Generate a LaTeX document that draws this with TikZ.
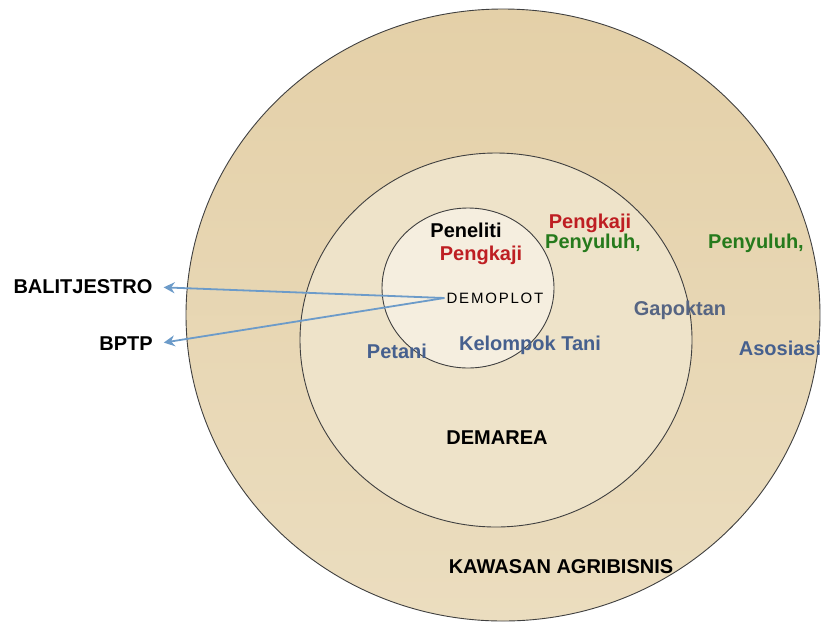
\documentclass[tikz,border=0pt]{standalone}
\usepackage{fontspec}
\setmainfont{Liberation Sans}
\usetikzlibrary{arrows.meta,positioning}
\definecolor{ringtop}{HTML}{E4D0A8}
\definecolor{ringbot}{HTML}{EBDDBF}
\definecolor{ringmid}{HTML}{EEE3C9}
\definecolor{ringin}{HTML}{F5EEDF}
\definecolor{txtred}{HTML}{BE1E22}
\definecolor{txtgreen}{HTML}{267A1C}
\definecolor{txtblue}{HTML}{46608E}
\definecolor{txtgray}{HTML}{566583}
\definecolor{arrblue}{HTML}{6C9BC9}
\tikzset{
  ring/.style  = {draw=black!75, line width=0.9pt},
  lbl/.style   = {font=\fontsize{20}{22}\selectfont\bfseries, inner sep=2pt},
  lblred/.style   = {lbl, text=txtred},
  lblgreen/.style = {lbl, text=txtgreen},
  lblblue/.style  = {lbl, text=txtblue},
  core/.style  = {font=\fontsize{15}{17}\selectfont\addfontfeature{LetterSpace=12}, inner sep=2pt},
  arr/.style   = {-{Stealth[length=11pt,width=11pt]}, draw=arrblue, line width=1.8pt},
}

\begin{document}
\begin{tikzpicture}[x=1pt, y=-1pt, node distance=2pt]
  \useasboundingbox (0,0) rectangle (821,622);
  % rings
  \draw[ring, top color=ringtop, bottom color=ringbot] (503,315) ellipse [x radius=317, y radius=306];
  \draw[ring, fill=ringmid] (496,340) ellipse [x radius=196, y radius=187];
  \draw[ring, fill=ringin] (468,288) ellipse [x radius=86, y radius=80];
  % demoplot
  \node[core] (demoplot) at (495,298) {DEMOPLOT};
  \node[lbl] (peneliti) at (466,230) {Peneliti};
  \node[lblred] (pengkajiA) at (481,255) {Pengkaji};
  \node[lblblue] (kelompok) at (530,345) {Kelompok Tani};
  % demarea
  \node[lblred] (pengkajiB) at (590,223) {Pengkaji};
  \node[lblgreen, below=-3pt of pengkajiB, xshift=3pt] (penyuluhA) {Penyuluh,};
  \node[lbl, text=txtgray] (gapoktan) at (680,310) {Gapoktan};
  \node[lblblue] (petani) at (397,351) {Petani};
  \node[lbl] (demarea) at (497,438) {DEMAREA};
  % kawasan
  \node[lblgreen] (penyuluhB) at (756,243) {Penyuluh,};
  \node[lblblue] (asosiasi) at (780,348) {Asosiasi};
  \node[lbl] (kawasan) at (561,567) {KAWASAN AGRIBISNIS};
  % outside
  \node[lbl] (balit) at (83,287) {BALITJESTRO};
  \node[lbl] (bptp) at (126,344) {BPTP};
  \draw[arr, shorten >=9pt] (demoplot.west) -- (balit.east);
  \draw[arr, shorten >=9pt] (demoplot.west) -- (bptp.east);
\end{tikzpicture}
\end{document}
